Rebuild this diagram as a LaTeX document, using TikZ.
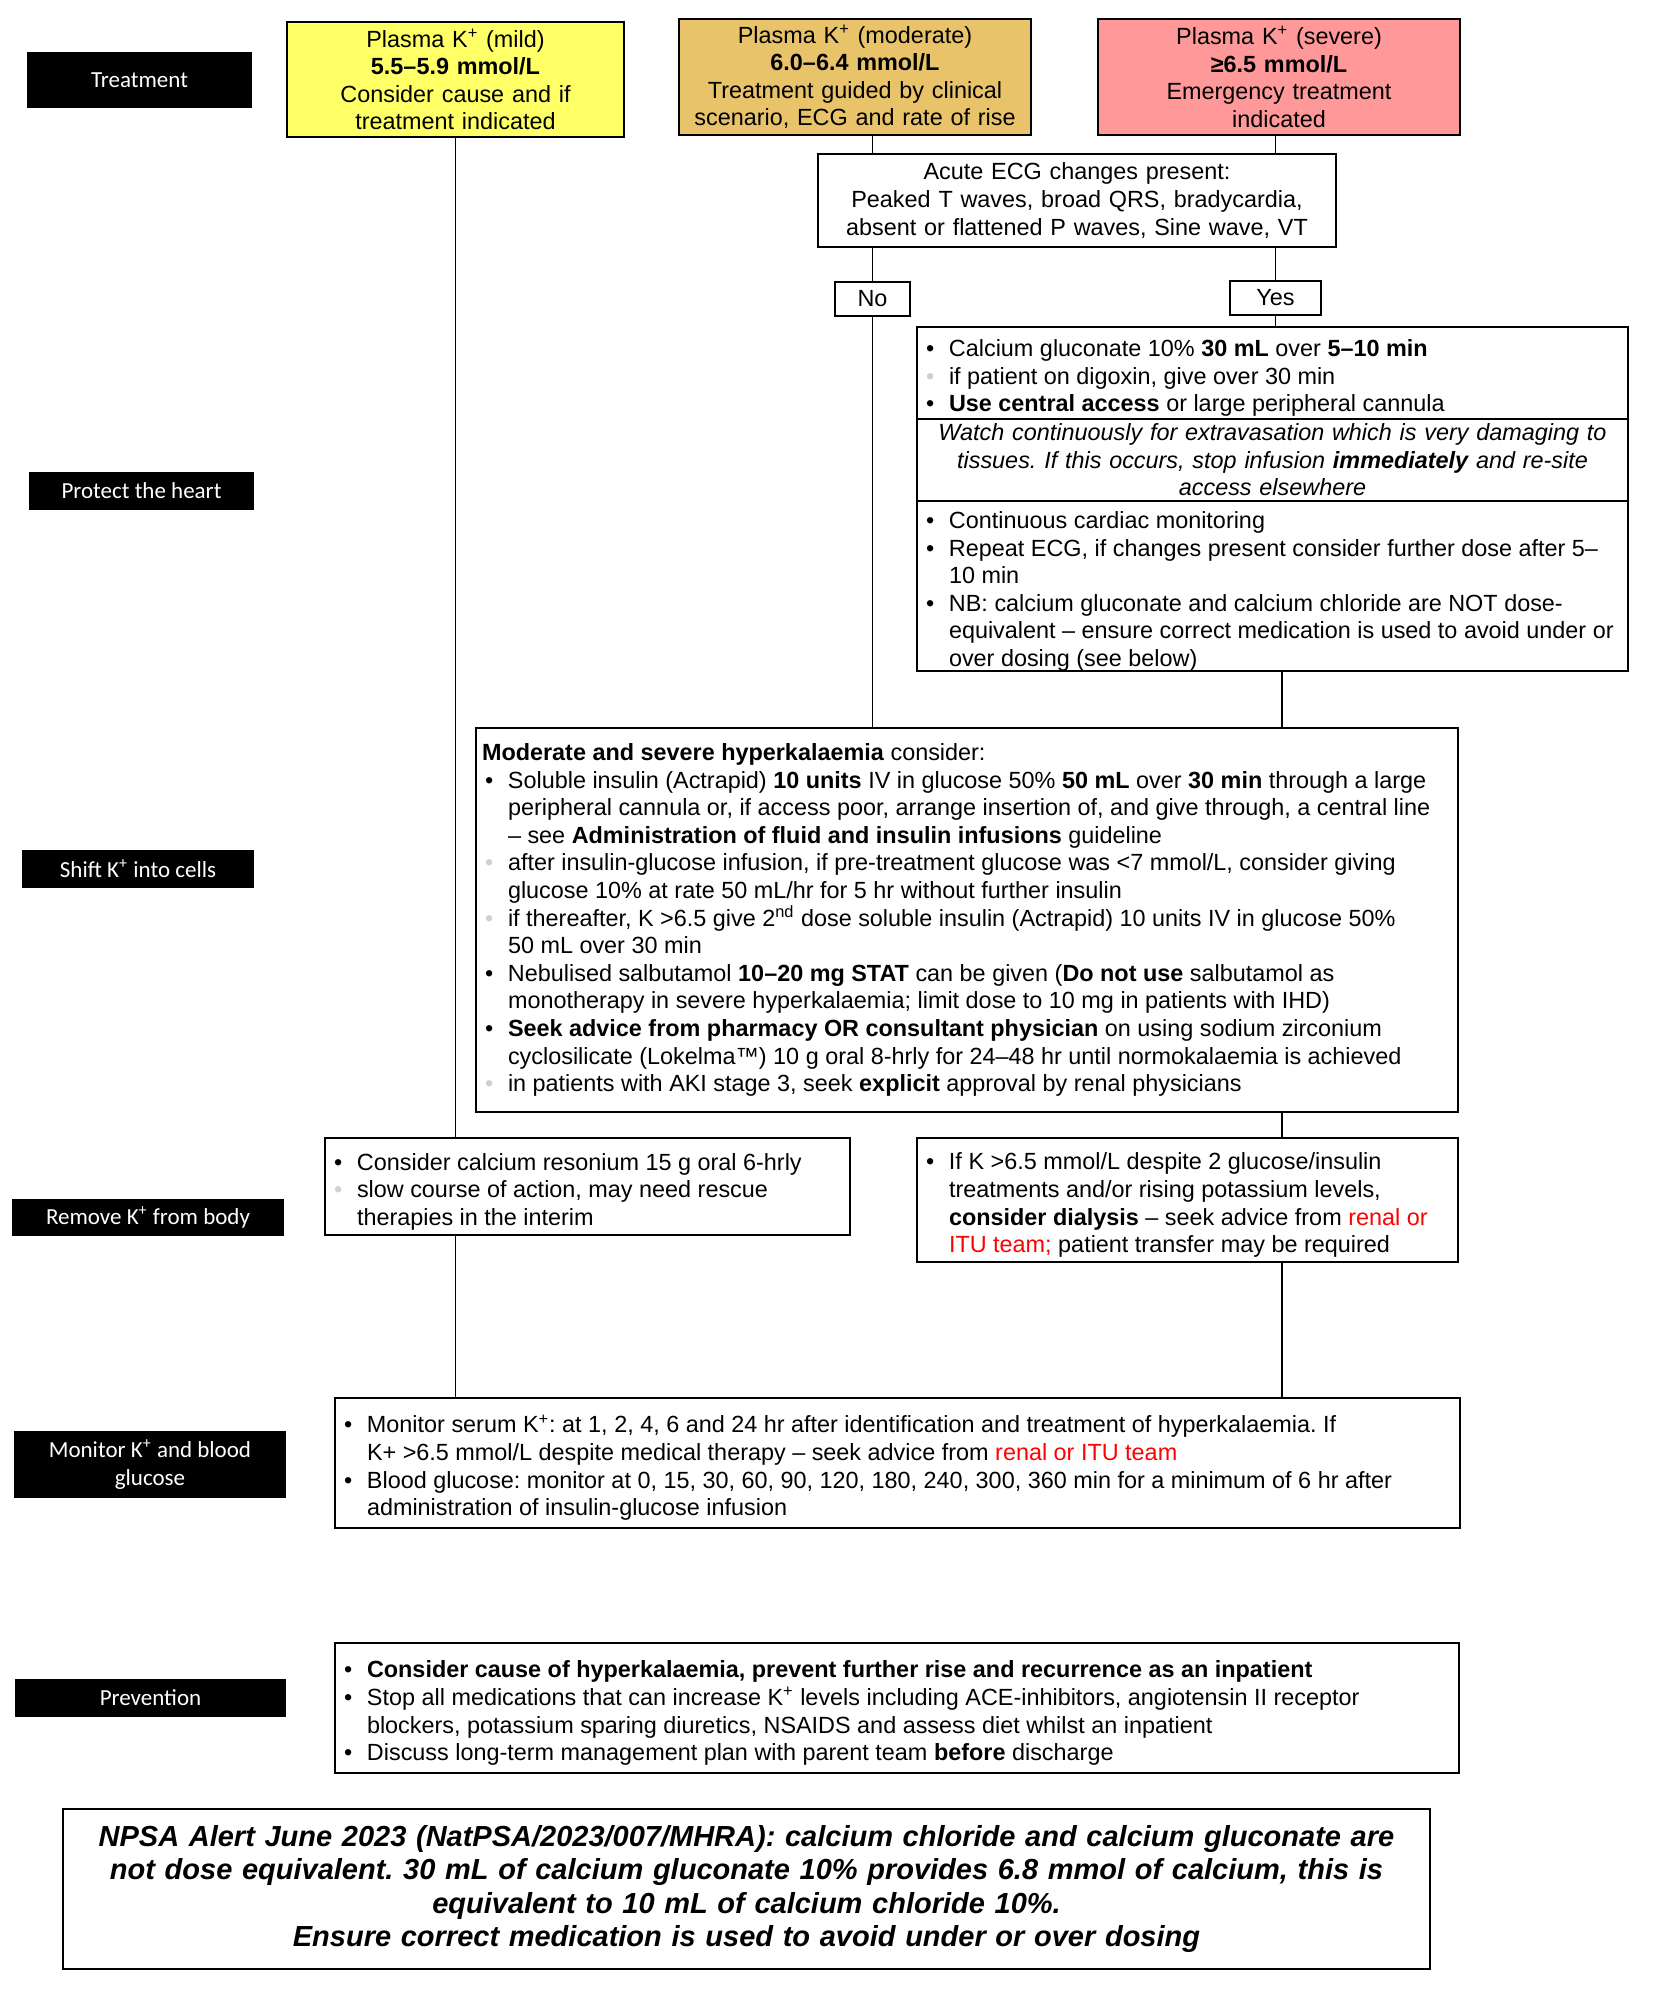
\documentclass[tikz,border=0pt]{standalone}
\usepackage{fontspec}
\setmainfont{Liberation Sans}
\newfontfamily\labfont{Carlito}
\usetikzlibrary{calc}
\frenchspacing
\definecolor{mildc}{HTML}{FFFF66}
\definecolor{modc}{HTML}{E8C36A}
\definecolor{sevc}{HTML}{FF9999}
\definecolor{greyb}{HTML}{D0D0D0}
\definecolor{redt}{HTML}{FF0000}
\newcommand\bitem[1]{\par\hangindent=15pt\hangafter=1\noindent\makebox[15pt][l]{\hspace{3.5pt}\textbullet}#1\par}
\newcommand\gitem[1]{\par\hangindent=15pt\hangafter=1\noindent\makebox[15pt][l]{\hspace{3.5pt}\textcolor{greyb}{\textbullet}}#1\par}
\newcommand\Kp{K\textsuperscript{+}}
\newcommand\nl{\newline}
\begin{document}
\begin{tikzpicture}[x=0.5pt,y=-0.5pt,
  bx/.style={draw, line width=1pt, outer sep=0pt, anchor=north west, inner xsep=1pt, inner ysep=0pt,
    font=\fontsize{11.7}{13.8}\selectfont\frenchspacing, align=flush left},
  hd/.style={bx, align=center},
  lab/.style={fill=black, anchor=north west, inner sep=0pt, outer sep=0pt, text=white,
    font=\labfont\fontsize{11.5}{14}\selectfont, align=center},
  conn/.style={line width=0.6pt}]
\fill[white] (0,0) rectangle (1670,2000);
\useasboundingbox (0,0) rectangle (1670,2000);

% row labels
\node[lab, minimum width=112.5pt, minimum height=28pt] (tl) at (27,52) {Treatment};
\node[lab, minimum width=112.5pt, minimum height=19pt] (pl) at (29,472) {Protect the heart};
\node[lab, minimum width=116pt, minimum height=19pt] (sl) at (22,850) {Shift \Kp{} into cells};
\node[lab, minimum width=136pt, minimum height=18.5pt] (rl) at (12,1199) {Remove \Kp{} from body};
\node[lab, minimum width=136pt, minimum height=33.5pt] (ml) at (14,1431) {Monitor \Kp{} and blood\\glucose};
\node[lab, minimum width=135.5pt, minimum height=19pt] (prl) at (15,1679) {Prevention};

% header boxes
\node[hd, fill=mildc, text width=166.5pt, minimum height=57.5pt] (mild) at (287,22)
  {Plasma \Kp{} (mild)\\\textbf{5.5–5.9 mmol/L}\\Consider cause and if\\treatment indicated};
\node[hd, fill=modc, text width=174pt, minimum height=58pt] (moderate) at (679,19)
  {Plasma \Kp{} (moderate)\\\textbf{6.0–6.4 mmol/L}\\Treatment guided by clinical\\scenario, ECG and rate of rise};
\node[hd, fill=sevc, text width=179pt, minimum height=58pt] (severe) at (1098,19)
  {Plasma \Kp{} (severe)\\\textbf{≥6.5 mmol/L}\\Emergency treatment\\indicated};

\node[hd, text width=257pt, minimum height=46.5pt] (ecg) at (818,154)
  {Acute ECG changes present:\\Peaked T waves, broad QRS, bradycardia,\\absent or flattened P waves, Sine wave, VT};

\node[bx, align=center, inner sep=0pt, minimum width=37.5pt, minimum height=17pt] (no) at (835,282) {No};
\node[bx, align=center, inner sep=0pt, minimum width=45.5pt, minimum height=17pt] (yes) at (1230,281) {Yes};

% protect the heart
\node[bx, text width=353.5pt, minimum height=46pt] (calcA) at (917,327)
  {\bitem{Calcium gluconate 10\% \textbf{30 mL} over \textbf{5–10 min}}
   \gitem{if patient on digoxin, give over 30 min}
   \bitem{\textbf{Use central access} or large peripheral cannula}};
\node[bx, align=center, text width=353.5pt, minimum height=41pt, font=\fontsize{11.7}{13.8}\selectfont\itshape\frenchspacing] (calcB) at (calcA.south west)
  {Watch continuously for extravasation which is very damaging to\\tissues. If this occurs, stop infusion \textbf{immediately} and re-site\\access elsewhere};
\node[bx, text width=353.5pt, minimum height=85pt] (calcC) at (calcB.south west)
  {\bitem{Continuous cardiac monitoring}
   \bitem{Repeat ECG, if changes present consider further dose after 5–\nl 10 min}
   \bitem{NB: calcium gluconate and calcium chloride are NOT dose-\nl equivalent – ensure correct medication is used to avoid under or\nl over dosing (see below)}};

% shift K into cells
\node[bx, text width=489pt, minimum height=192pt] (shift) at (476,728)
  {\noindent\hspace*{2pt}\textbf{Moderate and severe hyperkalaemia} consider:\par
   \bitem{Soluble insulin (Actrapid) \textbf{10 units} IV in glucose 50\% \textbf{50 mL} over \textbf{30 min} through a large\nl peripheral cannula or, if access poor, arrange insertion of, and give through, a central line\nl – see \textbf{Administration of fluid and insulin infusions} guideline}
   \gitem{after insulin-glucose infusion, if pre-treatment glucose was <7 mmol/L, consider giving\nl glucose 10\% at rate 50 mL/hr for 5 hr without further insulin}
   \gitem{if thereafter, K >6.5 give 2\textsuperscript{nd} dose soluble insulin (Actrapid) 10 units IV in glucose 50\%\nl 50 mL over 30 min}
   \bitem{Nebulised salbutamol \textbf{10–20 mg STAT} can be given (\textbf{Do not use} salbutamol as\nl monotherapy in severe hyperkalaemia; limit dose to 10 mg in patients with IHD)}
   \bitem{\textbf{Seek advice from pharmacy OR consultant physician} on using sodium zirconium\nl cyclosilicate (Lokelma™) 10 g oral 8-hrly for 24–48 hr until normokalaemia is achieved}
   \gitem{in patients with AKI stage 3, seek \textbf{explicit} approval by renal physicians}
   \vspace*{8pt}};

% remove K from body
\node[bx, text width=260.5pt, minimum height=48.5pt] (remleft) at (325,1138)
  {\bitem{Consider calcium resonium 15 g oral 6-hrly}
   \gitem{slow course of action, may need rescue\nl therapies in the interim}};
\node[bx, text width=268.5pt, minimum height=62pt] (remright) at (917,1138)
  {\bitem{If K >6.5 mmol/L despite 2 glucose/insulin\nl treatments and/or rising potassium levels,\nl \textbf{consider dialysis} – seek advice from \textcolor{redt}{renal or}\nl \textcolor{redt}{ITU team;} patient transfer may be required}};

% monitor
\node[bx, text width=560.5pt, minimum height=65pt] (monitor) at (335,1398)
  {\bitem{Monitor serum \Kp: at 1, 2, 4, 6 and 24 hr after identification and treatment of hyperkalaemia. If\nl K+ >6.5 mmol/L despite medical therapy – seek advice from \textcolor{redt}{renal or ITU team}}
   \bitem{Blood glucose: monitor at 0, 15, 30, 60, 90, 120, 180, 240, 300, 360 min for a minimum of 6 hr after\nl administration of insulin-glucose infusion}};

% prevention
\node[bx, text width=560pt, minimum height=65pt] (prev) at (335,1643)
  {\bitem{\textbf{Consider cause of hyperkalaemia, prevent further rise and recurrence as an inpatient}}
   \bitem{Stop all medications that can increase \Kp{} levels including ACE-inhibitors, angiotensin II receptor\nl blockers, potassium sparing diuretics, NSAIDS and assess diet whilst an inpatient}
   \bitem{Discuss long-term management plan with parent team \textbf{before} discharge}};

% NPSA alert
\node[bx, align=center, text width=681.5pt, minimum height=80pt, font=\fontsize{14.5}{16.8}\selectfont\bfseries\itshape\frenchspacing] (npsa) at (63,1809)
  {NPSA Alert June 2023 (NatPSA/2023/007/MHRA): calcium chloride and calcium gluconate are\\not dose equivalent. 30 mL of calcium gluconate 10\% provides 6.8 mmol of calcium, this is\\equivalent to 10 mL of calcium chloride 10\%.\\Ensure correct medication is used to avoid under or over dosing};

% connectors
\coordinate (rt) at (1282,0);
\draw[conn] (mild.south) -- (mild.south |- remleft.north);
\draw[conn] (mild.south |- remleft.south) -- (mild.south |- monitor.north);
\draw[conn] (no.north |- moderate.south) -- (no.north |- ecg.north);
\draw[conn] (no.north |- ecg.south) -- (no.north);
\draw[conn] (no.south) -- (no.south |- shift.north);
\draw[conn] (yes.north |- severe.south) -- (yes.north |- ecg.north);
\draw[conn] (yes.north |- ecg.south) -- (yes.north);
\draw[conn] (yes.south) -- (yes.south |- calcA.north);
\draw[conn] (calcC.south -| rt) -- (shift.north -| rt);
\draw[conn] (shift.south -| rt) -- (remright.north -| rt);
\draw[conn] (remright.south -| rt) -- (monitor.north -| rt);
\end{tikzpicture}
\end{document}
